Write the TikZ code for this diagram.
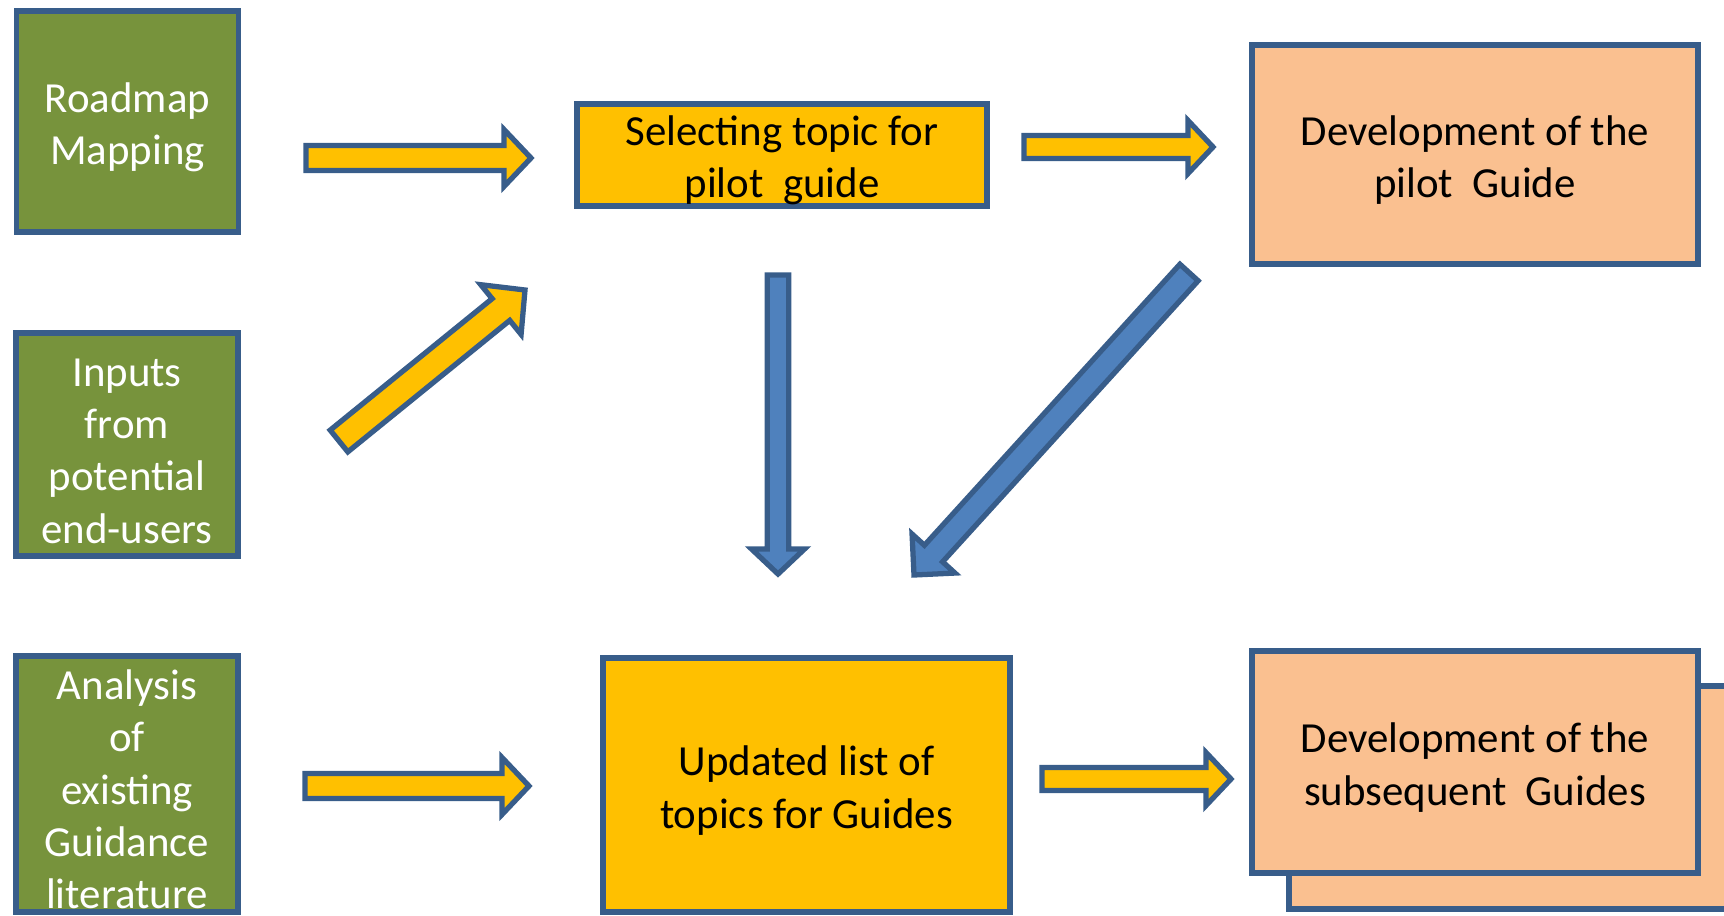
\documentclass[tikz,border=0pt]{standalone}
\usepackage{fontspec}
\setmainfont{Carlito}
\usepackage{xcolor}
\definecolor{leaf_green}{RGB}{119,147,60}
\definecolor{edge_blue}{RGB}{56,93,138}
\definecolor{gold_yellow}{RGB}{255,192,0}
\definecolor{light_peach}{RGB}{250,192,144}
\definecolor{arrow_blue}{RGB}{79,129,189}
\usetikzlibrary{calc}

% block arrow: style, tail, tip, half shaft, half head, head length
\newcommand{\blockarrow}[6]{%
  \coordinate (#3-base) at ($(#3)!#6!(#2)$);
  \draw[#1] ($(#2)!#4!90:(#3)$) -- ($(#3-base)!#4!90:(#3)$) -- ($(#3-base)!#5!90:(#3)$) -- (#3)
    -- ($(#3-base)!#5!-90:(#3)$) -- ($(#3-base)!#4!-90:(#3)$) -- ($(#2)!#4!-90:(#3)$) -- cycle;
}
% pushes the text block a little down in its box
\newcommand{\toppad}{\rule{0pt}{11.6pt}}

\tikzset{
  box/.style={draw=edge_blue, line width=1.7pt, inner sep=0pt, align=center, font=\fontsize{12.2}{14.9}\selectfont},
  sourcebox/.style={box, fill=leaf_green, text=white, minimum width=2.22cm},
  topicbox/.style={box, fill=gold_yellow},
  guidebox/.style={box, fill=light_peach, minimum width=4.46cm},
  yellowarrow/.style={draw=edge_blue, line width=1.5pt, fill=gold_yellow},
  bluearrow/.style={draw=edge_blue, line width=1.5pt, fill=arrow_blue}
}

\begin{document}
\begin{tikzpicture}
\useasboundingbox (0,0) rectangle (17.24,-9.15);

\node[sourcebox, minimum height=2.21cm] (roadmap) at (1.275,-1.215) {\toppad Roadmap\\Mapping};
\node[sourcebox, minimum height=2.23cm] (inputs) at (1.27,-4.445) {\toppad Inputs\\from\\potential\\end-users};
\node[sourcebox, minimum height=2.56cm] (analysis) at (1.27,-7.84) {\toppad Analysis\\of\\existing\\Guidance\\literature};

\node[topicbox, minimum width=4.10cm, minimum height=1.02cm] (selecting) at (7.82,-1.55) {\toppad Selecting topic for\\pilot\ \ guide};
\node[topicbox, minimum width=4.07cm, minimum height=2.54cm] (updated) at (8.065,-7.85) {\toppad Updated list of\\topics for Guides};

\node[guidebox, minimum height=2.19cm] (pilot) at (14.75,-1.545) {\toppad Development of the\\pilot\ \ Guide};
\node[guidebox, minimum height=2.23cm] (stack) at (15.12,-7.975) {};
\node[guidebox, minimum height=2.22cm] (subsequent) at (14.75,-7.62) {\toppad Development of the\\subsequent\ \ Guides};

\coordinate (roadmap-out) at (3.06,-1.58);
\coordinate (selecting-in) at (5.31,-1.58);
\coordinate (inputs-out) at (3.39,-4.41);
\coordinate (selecting-in2) at (5.25,-2.90);
\coordinate (analysis-out) at (3.05,-7.86);
\coordinate (updated-in) at (5.29,-7.86);
\coordinate (selecting-out) at (10.24,-1.47);
\coordinate (pilot-in) at (12.13,-1.47);
\coordinate (updated-out) at (10.42,-7.79);
\coordinate (subsequent-in) at (12.31,-7.79);
\coordinate (selecting-down) at (7.78,-2.75);
\coordinate (updated-in2) at (7.78,-5.74);
\coordinate (pilot-out) at (11.89,-2.725);
\coordinate (updated-in3) at (9.14,-5.75);

\blockarrow{yellowarrow}{roadmap-out}{selecting-in}{0.125cm}{0.285cm}{0.27cm}
\blockarrow{yellowarrow}{inputs-out}{selecting-in2}{0.14cm}{0.32cm}{0.31cm}
\blockarrow{yellowarrow}{analysis-out}{updated-in}{0.125cm}{0.285cm}{0.27cm}
\blockarrow{yellowarrow}{selecting-out}{pilot-in}{0.115cm}{0.265cm}{0.25cm}
\blockarrow{yellowarrow}{updated-out}{subsequent-in}{0.115cm}{0.265cm}{0.25cm}

\blockarrow{bluearrow}{selecting-down}{updated-in2}{0.108cm}{0.265cm}{0.25cm}
\blockarrow{bluearrow}{pilot-out}{updated-in3}{0.123cm}{0.29cm}{0.29cm}

\end{tikzpicture}
\end{document}
